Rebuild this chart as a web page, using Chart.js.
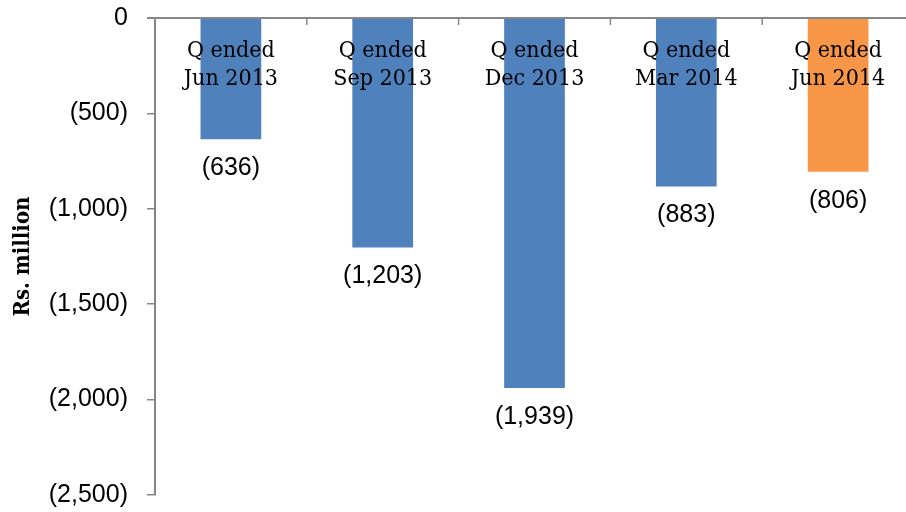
<!DOCTYPE html>
<html>
<head>
<meta charset="utf-8">
<script src="https://cdn.jsdelivr.net/npm/chart.js@4"></script>
<style>
html,body{margin:0;padding:0;background:#fff;overflow:hidden;}
#wrap{width:920px;height:512px;}
</style>
</head>
<body>
<div id="wrap"><canvas id="c" width="920" height="512"></canvas></div>
<script>
const categories = [["Q ended","Jun 2013"],["Q ended","Sep 2013"],["Q ended","Dec 2013"],["Q ended","Mar 2014"],["Q ended","Jun 2014"]];
const values = [-636, -1203, -1939, -883, -806];
const barColors = ["#4F81BD","#4F81BD","#4F81BD","#4F81BD","#F79646"];
const yTicks = [-2500, -2000, -1500, -1000, -500, 0];
const yTitle = "Rs. million";

function paren(v){
  if (v === 0) return "0";
  const s = Math.abs(v).toLocaleString("en-US");
  return v < 0 ? "(" + s + ")" : s;
}

const axisGray = "#868686";
const serif = "'DejaVu Serif Condensed', 'DejaVu Serif', serif";
const sans = "'Liberation Sans', Arial, sans-serif";

const overlay = {
  id: "overlay",
  afterDatasetsDraw(chart){
    const ctx = chart.ctx;
    const area = chart.chartArea;
    const x = chart.scales.x;
    ctx.save();
    ctx.strokeStyle = axisGray;
    ctx.lineWidth = 2;
    ctx.beginPath();
    ctx.moveTo(147, area.top);
    ctx.lineTo(area.right + 10, area.top);
    ctx.stroke();
    ctx.lineWidth = 1.5;
    for (let i = 1; i < categories.length; i++){
      const px = (x.getPixelForValue(i - 1) + x.getPixelForValue(i)) / 2;
      ctx.beginPath();
      ctx.moveTo(px, area.top);
      ctx.lineTo(px, area.top + 7);
      ctx.stroke();
    }
    ctx.fillStyle = "#000";
    ctx.font = "23px " + serif;
    ctx.textAlign = "center";
    ctx.textBaseline = "alphabetic";
    categories.forEach((lines, i) => {
      const px = x.getPixelForValue(i);
      lines.forEach((t, j) => ctx.fillText(t, px, area.top + 39 + j * 28));
    });
    ctx.font = "25px " + sans;
    ctx.textBaseline = "middle";
    const meta = chart.getDatasetMeta(0);
    meta.data.forEach((bar, i) => {
      ctx.fillText(paren(values[i]), bar.x, bar.y + 29);
    });
    ctx.restore();
  }
};

new Chart(document.getElementById("c"), {
  type: "bar",
  data: {
    labels: categories.map(c => c.join(" ")),
    datasets: [{
      data: values,
      backgroundColor: barColors,
      borderWidth: 0,
      barPercentage: 0.4,
      categoryPercentage: 1.0
    }]
  },
  options: {
    responsive: false,
    animation: false,
    layout: { padding: { top: 18, bottom: 17, right: 6, left: 0 } },
    plugins: { legend: { display: false }, tooltip: { enabled: false } },
    scales: {
      x: { display: false },
      y: {
        min: -2500, max: 0,
        afterBuildTicks(scale){ scale.ticks = yTicks.map(v => ({ value: v })); },
        afterFit(scale){ scale.width = 155; scale.paddingTop = 0; scale.paddingBottom = 0; },
        border: { display: true, color: axisGray, width: 2 },
        grid: { drawOnChartArea: false, drawTicks: true, tickLength: 8, color: axisGray, lineWidth: 1.5 },
        ticks: {
          color: "#000",
          font: { family: sans, size: 25 },
          padding: 19,
          callback: (v) => paren(v)
        },
        title: {
          display: true,
          text: yTitle,
          color: "#000",
          font: { family: serif, size: 22, weight: "bold" },
          padding: { top: 10, bottom: 0 }
        }
      }
    }
  },
  plugins: [overlay]
});
</script>
</body>
</html>
